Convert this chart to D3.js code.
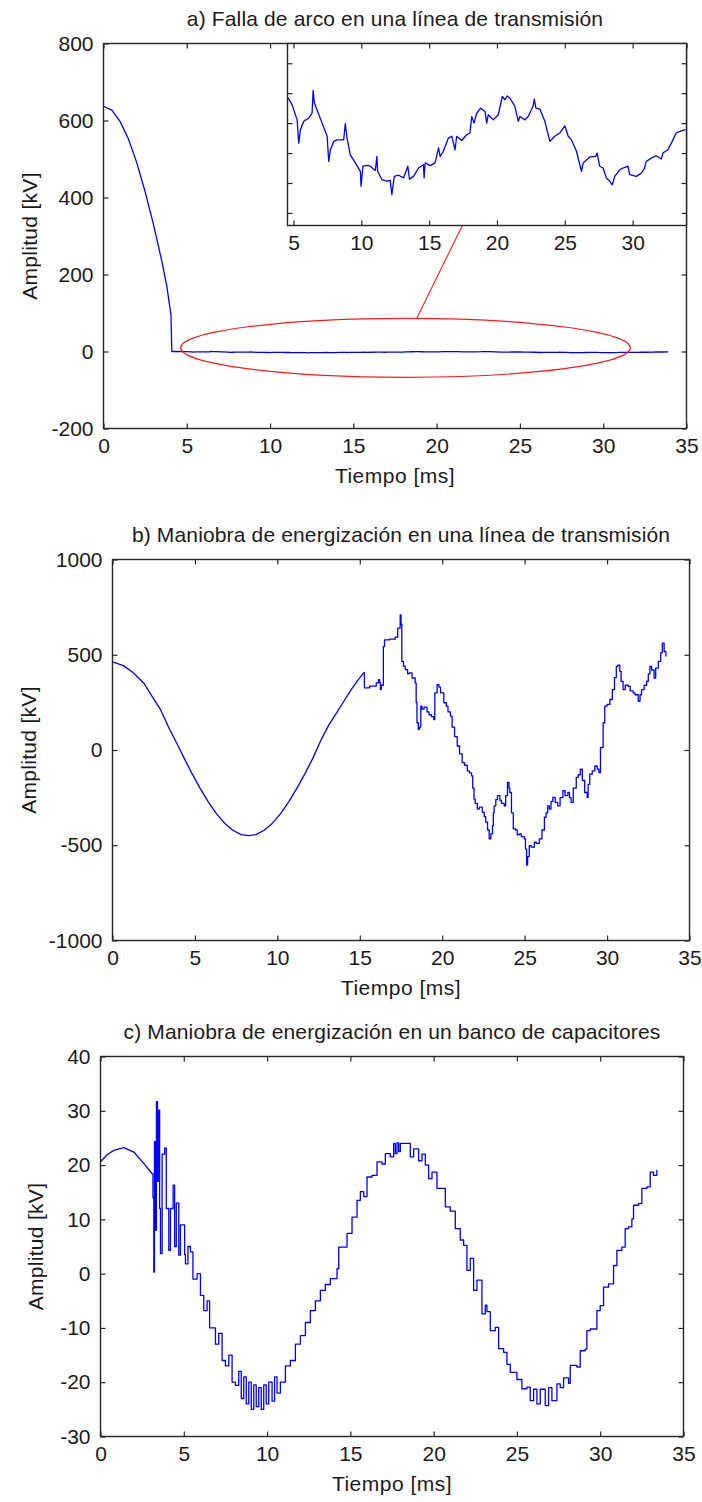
<!DOCTYPE html>
<html>
<head>
<meta charset="utf-8">
<script src="https://cdn.jsdelivr.net/npm/d3@7"></script>
<style>
  body { margin: 0; background: #fff; }
  text { font-family: "Liberation Sans", Arial, sans-serif; fill: #1a1a1a; }
</style>
</head>
<body>
<svg id="fig" width="702" height="1502"></svg>
<script>
// ---------------- data ----------------
// a) arc fault: voltage collapse before the arc, in kV
const faultTime = [0, 0.5, 1.0, 1.5, 2.0, 2.5, 3.0, 3.5, 3.8, 4.05];
const faultKV   = [637, 627, 597, 552, 490, 415, 330, 235, 170, 95];

// a) residual voltage after the fault (shown magnified in the inset), in kV
const residualTime = [4.1, 4.4, 4.66, 4.90, 5.27, 5.39, 5.51, 5.76, 6.13, 6.37, 6.45, 6.54, 6.74, 7.11, 7.48, 7.60, 7.72, 7.97, 8.21, 8.70, 8.82, 8.95, 9.19, 9.56, 9.93, 9.98, 10.12, 10.42, 10.66, 11.03, 11.15, 11.20, 11.52, 11.89, 12.13, 12.25, 12.43, 12.75, 13.11, 13.43, 13.55, 13.85, 14.22, 14.58, 14.63, 14.71, 15.07, 15.44, 15.69, 15.81, 16.05, 16.42, 16.67, 16.91, 17.03, 17.40, 17.77, 18.01, 18.14, 18.31, 18.50, 18.80, 19.12, 19.24, 19.36, 19.73, 20.10, 20.39, 20.59, 20.76, 20.96, 21.32, 21.57, 21.69, 22.06, 22.30, 22.67, 22.75, 22.87, 23.16, 23.53, 23.90, 24.26, 24.63, 25.00, 25.25, 25.49, 25.86, 26.23, 26.35, 26.84, 27.28, 27.38, 27.57, 27.82, 28.06, 28.31, 28.50, 28.68, 29.04, 29.29, 29.66, 29.78, 30.27, 30.64, 30.88, 31.00, 31.37, 31.74, 32.11, 32.23, 32.60, 32.97, 33.21, 33.58, 33.90];
const residualKV   = [0, -0.05, -0.19, -0.39, -0.89, -1.67, -1.22, -0.94, -0.83, -0.67, 0.09, -0.33, -0.56, -1.00, -1.44, -2.28, -1.89, -1.61, -1.56, -1.56, -1.02, -1.50, -2.06, -2.33, -2.61, -3.11, -2.44, -2.41, -2.44, -2.58, -2.11, -2.61, -2.89, -2.94, -2.91, -3.39, -2.78, -2.74, -2.83, -2.44, -2.87, -2.78, -2.50, -2.39, -2.83, -2.33, -2.42, -2.33, -1.83, -2.11, -1.94, -1.50, -1.44, -1.89, -1.44, -1.58, -1.39, -1.33, -0.78, -1.00, -0.67, -0.50, -0.61, -1.00, -0.72, -0.89, -0.72, -0.11, -0.22, -0.09, -0.17, -0.44, -0.94, -0.78, -0.89, -0.78, -0.42, -0.20, -0.50, -0.53, -0.94, -1.61, -1.44, -1.33, -1.09, -1.44, -1.56, -1.94, -2.61, -2.33, -2.13, -2.11, -2.00, -2.44, -2.50, -2.83, -2.94, -3.06, -2.78, -2.56, -2.50, -2.44, -2.72, -2.78, -2.67, -2.50, -2.28, -2.17, -2.09, -2.20, -2.00, -1.89, -1.56, -1.33, -1.26, -1.22];

// zoom annotation around the residual (ms, kV) and where it meets the inset
const zoomCenter = [18.13, 9.5];
const zoomRadius = [13.5, 76.5];
const zoomLink   = [18.8, 17.45];   // [time on ellipse, time on inset axis]

// b) line energization, in kV
const lineTime = [0, 0.67, 1.28, 1.89, 2.4, 2.91, 3.42, 3.93, 4.33, 4.8, 5.3, 5.8, 6.3, 6.8, 7.3, 7.8, 8.25, 8.7, 9.2, 9.7, 10.2, 10.7, 11.2, 11.7, 12.17, 12.67, 13.1, 13.59, 14.1, 14.5, 14.91, 15.26,
  15.28, 15.6, 16.0, 16.13, 16.2, 16.25, 16.3, 16.43, 16.5, 16.8, 17.15, 17.3, 17.45, 17.5, 17.55, 17.65, 17.76, 17.9, 18.0, 18.17, 18.36, 18.42, 18.47, 18.55, 18.61, 18.7, 18.77, 18.9, 19.08, 19.2, 19.35, 19.49, 19.55, 19.69, 19.8, 19.9, 20.1, 20.25, 20.35, 20.5, 20.6, 20.75, 20.91, 21.05, 21.21, 21.35, 21.52, 21.65, 21.78, 21.85, 21.93, 22.0, 22.13, 22.25, 22.43, 22.55, 22.64, 22.75, 22.85, 22.95, 23.05, 23.1, 23.15, 23.25, 23.35, 23.5, 23.6, 23.76, 23.85, 23.96, 24.05, 24.1, 24.2, 24.31, 24.45, 24.55, 24.67, 24.8, 24.98, 25.05, 25.12, 25.18, 25.28, 25.4, 25.59, 25.7, 25.89, 26.05, 26.2, 26.3, 26.4, 26.5, 26.6, 26.71, 26.85, 27.01, 27.15, 27.32, 27.45, 27.62, 27.72, 27.82, 27.95, 28.13, 28.25, 28.38, 28.5, 28.64, 28.79, 28.85, 28.95, 29.1, 29.26, 29.4, 29.51, 29.6, 29.76, 29.86, 30.0, 30.17, 30.32, 30.45, 30.56, 30.65, 30.77, 30.85, 30.97, 31.1, 31.28, 31.4, 31.58, 31.7, 31.89, 32.0, 32.09, 32.25, 32.4, 32.5, 32.6, 32.7, 32.85, 32.95, 33.11, 33.25, 33.35, 33.46, 33.57];
const lineKV = [463, 443, 404, 352, 282, 213, 117, 30, -40, -120, -199, -271, -334, -384, -421, -444, -450, -444, -421, -384, -334, -271, -199, -120, -40, 56, 128, 195, 265, 320, 369, 407,
  326, 335, 352, 369, 355, 317, 340, 543, 578, 582, 592, 640, 709, 660, 465, 440, 422, 400, 405, 378, 352, 250, 143, 108, 120, 230, 215, 225, 200, 185, 175, 160, 300, 343, 330, 300, 248, 230, 200, 178, 120, 70, 21, -20, -66, -80, -110, -120, -136, -200, -258, -280, -310, -300, -327, -350, -379, -420, -467, -440, -397, -330, -293, -260, -240, -265, -280, -293, -240, -170, -200, -223, -330, -414, -420, -445, -440, -455, -467, -520, -604, -560, -502, -510, -484, -490, -467, -420, -353, -330, -293, -310, -270, -249, -275, -293, -250, -214, -240, -223, -250, -275, -200, -144, -130, -101, -160, -223, -249, -180, -127, -110, -84, -100, -118, 13, 143, 230, 240, 265, 317, 380, 439, 445, 413, 360, 317, 340, 334, 310, 300, 290, 256, 290, 317, 340, 361, 400, 439, 420, 378, 430, 465, 510, 561, 517, 491];

// c) capacitor bank energization, in kV
const bankTime = [0, 0.4, 0.8, 1.4, 2.0, 2.6, 3.1, 3.15, 3.2, 3.24, 3.3, 3.36, 3.42, 3.5, 3.55, 3.6, 3.7, 3.85, 3.95, 4.1, 4.2, 4.36, 4.45, 4.55, 4.7, 4.8, 4.95, 5.05, 5.1, 5.25, 5.4, 5.55, 5.8, 6.0, 6.2, 6.4, 6.55, 6.9, 7.1, 7.3, 7.5, 7.7, 7.9, 8.1, 8.3, 8.45, 8.6, 8.75, 8.9, 9.05, 9.2, 9.35, 9.5, 9.65, 9.8, 9.95, 10.1, 10.3, 10.45, 10.6, 10.8, 11.1, 11.4, 11.7, 12.0, 12.3, 12.6, 12.9, 13.2, 13.5, 13.8, 14.2, 14.3, 14.8, 15.1, 15.4, 15.6, 15.8, 16.0, 16.3, 16.6, 16.9, 17.1, 17.4, 17.6, 17.7, 17.8, 17.9, 18.0, 18.4, 18.6, 18.8, 19.1, 19.3, 19.5, 19.7, 19.9, 20.2, 20.4, 20.7, 21.0, 21.3, 21.6, 21.8, 22.0, 22.2, 22.4, 22.6, 22.9, 23.1, 23.2, 23.4, 23.7, 23.9, 24.2, 24.4, 24.6, 25.0, 25.3, 25.6, 25.8, 26.0, 26.2, 26.4, 26.7, 26.9, 27.1, 27.4, 27.6, 27.8, 28.1, 28.2, 28.6, 28.8, 29.1, 29.2, 29.4, 29.8, 30.0, 30.2, 30.5, 30.8, 31.0, 31.3, 31.5, 31.7, 31.9, 32.0, 32.3, 32.5, 32.8, 33.0, 33.2, 33.4];
const bankKV = [20.6, 21.9, 22.7, 23.2, 22.4, 20.3, 18.4, 14, 0.3, 24.3, 8, 31.7, 17, 30.1, 12, 3.7, 22, 23.1, 12, 4.3, 12, 16.3, 5, 13, 3.4, 9, 9, 3.5, 1.8, 5, 4, -1, 0, -4, -6.8, -5, -10, -13, -11, -16, -17, -15, -20, -20.6, -18, -23, -19, -24, -20, -25, -20.5, -24.5, -21, -25, -20.5, -24, -20, -23.5, -19, -22, -20, -17, -16, -13, -11.4, -9, -6.8, -5, -3.1, -2, -0.9, 0.9, 4.9, 7.4, 10.4, 13.5, 15.1, 14.2, 17.8, 18.1, 20.6, 20.2, 22.1, 21.5, 24.0, 22.1, 24.1, 22.5, 24.0, 24.0, 21.5, 23, 20.8, 22, 20.0, 17.5, 18.7, 15.7, 15.7, 12.3, 11.5, 8.3, 6.2, 5.2, 0.6, 2.8, -3.1, -1.2, -7.4, -5.8, -7.0, -10.5, -9.9, -13.8, -14.5, -16.7, -18.2, -19.5, -21.2, -20.9, -23.4, -21.3, -24.0, -21.3, -24.3, -21.0, -23.4, -20.3, -21.0, -19.2, -20.2, -16.9, -17.2, -14.2, -13.9, -10.5, -10.2, -6.8, -5.9, -2.5, -1.9, 1.5, 4.3, 4.9, 8.3, 8.6, 10.1, 12.6, 12.9, 15.7, 16.0, 18.7, 18.1, 19.1];

// tick values
const timeTicks  = [0, 5, 10, 15, 20, 25, 30, 35];
const insetTicksX = [5, 10, 15, 20, 25, 30];
const insetTicksY = [-4, -3, -2, -1, 0, 1];
const arcTicksY  = [-200, 0, 200, 400, 600, 800];
const lineTicksY = [-1000, -500, 0, 500, 1000];
const bankTicksY = [-30, -20, -10, 0, 10, 20, 30, 40];

// titles
const titles = [
  "a) Falla de arco en una línea de transmisión",
  "b) Maniobra de energización en una línea de transmisión",
  "c) Maniobra de energización en un banco de capacitores"
];
const xLabel = "Tiempo [ms]";
const yLabel = "Amplitud [kV]";

// ---------------- drawing ----------------
const svg = d3.select("#fig");
const FONT = 21;
const LINE_BLUE = "#0000ff";
const AXIS = "#262626";
const TICK = 5;
const fmt = d => String(d);

const zip = (t, v) => t.map((d, i) => ({ t: d, v: v[i] }));

// box with ticks pointing inward on all four sides
function frame(g, x, y, xt, yt, box, withLabels) {
  const [l, r, t, b] = box;
  g.append("g").attr("transform", `translate(0,${b})`)
    .call(d3.axisBottom(x).tickValues(xt).tickSize(-TICK).tickSizeOuter(0)
      .tickPadding(10).tickFormat(withLabels.x ? fmt : ""));
  g.append("g").attr("transform", `translate(0,${t})`)
    .call(d3.axisTop(x).tickValues(xt).tickSize(-TICK).tickSizeOuter(0).tickFormat(""));
  g.append("g").attr("transform", `translate(${l},0)`)
    .call(d3.axisLeft(y).tickValues(yt).tickSize(-TICK).tickSizeOuter(0)
      .tickPadding(10).tickFormat(withLabels.y ? fmt : ""));
  g.append("g").attr("transform", `translate(${r},0)`)
    .call(d3.axisRight(y).tickValues(yt).tickSize(-TICK).tickSizeOuter(0).tickFormat(""));
  g.selectAll(".domain").remove();
  g.selectAll(".tick line").attr("stroke", AXIS).attr("stroke-width", 1.2);
  g.selectAll(".tick text").attr("font-size", FONT).attr("font-family", null).attr("fill", "#1a1a1a");
  g.append("rect").attr("x", l).attr("y", t).attr("width", r - l).attr("height", b - t)
    .attr("fill", "none").attr("stroke", AXIS).attr("stroke-width", 1.4);
}

// draws a trace: smooth part as straight segments, sampled/noisy part as a staircase
function trace(g, data, x, y, stepFrom, clip) {
  const smooth = data.filter(d => d.t <= stepFrom);
  const noisy = data.filter(d => d.t >= stepFrom);
  const style = p => p.attr("fill", "none").attr("stroke", LINE_BLUE).attr("stroke-width", 1.3)
    .attr("stroke-linejoin", "round").attr("clip-path", clip || null);
  if (smooth.length > 1)
    style(g.append("path").datum(smooth).attr("d", d3.line().x(d => x(d.t)).y(d => y(d.v))));
  if (noisy.length > 1)
    style(g.append("path").datum(noisy)
      .attr("d", d3.line().curve(d3.curveStepAfter).x(d => x(d.t)).y(d => y(d.v))));
}

function panel(cfg) {
  const [l, r, t, b] = cfg.box;
  const g = svg.append("g");
  const x = d3.scaleLinear().domain([0, 35]).range([l, r]);
  const y = d3.scaleLinear().domain(cfg.yDomain).range([b, t]);
  trace(g, cfg.data, x, y, cfg.stepFrom);
  frame(g, x, y, timeTicks, cfg.yTicks, cfg.box, { x: true, y: true });
  g.append("text").attr("x", (l + r) / 2).attr("y", t - 18).attr("text-anchor", "middle")
    .attr("font-size", FONT).attr("letter-spacing", 0.15).text(cfg.title);
  g.append("text").attr("x", (l + r) / 2).attr("y", b + 54).attr("text-anchor", "middle")
    .attr("font-size", FONT).attr("letter-spacing", 0.5).text(xLabel);
  g.append("text").attr("transform", `translate(${cfg.yLabelX},${(t + b) / 2}) rotate(-90)`)
    .attr("text-anchor", "middle").attr("font-size", FONT).attr("letter-spacing", 0.3).text(yLabel);
  return { g, x, y };
}

// a) arc fault
const residual = zip(residualTime, residualKV);
const A = panel({
  box: [103.5, 686.5, 43.5, 428.5],
  yDomain: [-200, 800],
  yTicks: arcTicksY,
  data: zip(faultTime, faultKV).concat(residual),
  stepFrom: 99,
  title: titles[0],
  yLabelX: 37
});

// ellipse marking the magnified region
const ex = A.x(zoomCenter[0]), ey = A.y(zoomCenter[1]);
const erx = A.x(zoomCenter[0] + zoomRadius[0]) - ex;
const ery = ey - A.y(zoomCenter[1] + zoomRadius[1]);
A.g.append("ellipse").attr("cx", ex).attr("cy", ey).attr("rx", erx).attr("ry", ery)
  .attr("fill", "none").attr("stroke", "#ff1a1a").attr("stroke-width", 1.2);

// inset axes
const inBox = [287.5, 686.5, 43.5, 225.5];
const ix = d3.scaleLinear().domain([4.56, 33.97]).range([inBox[0], inBox[1]]);
const iy = d3.scaleLinear().domain([-4.42, 1.66]).range([inBox[3], inBox[2]]);

// connector from the ellipse to the inset
const lt = zoomLink[0];
const u = (lt - zoomCenter[0]) / zoomRadius[0];
const linkV = zoomCenter[1] + zoomRadius[1] * Math.sqrt(1 - u * u);
A.g.append("line")
  .attr("x1", A.x(lt)).attr("y1", A.y(linkV))
  .attr("x2", ix(zoomLink[1])).attr("y2", inBox[3])
  .attr("stroke", "#ff1a1a").attr("stroke-width", 1.1);

const inset = svg.append("g");
inset.append("rect").attr("x", inBox[0]).attr("y", inBox[2])
  .attr("width", inBox[1] - inBox[0]).attr("height", inBox[3] - inBox[2]).attr("fill", "#fff");
inset.append("clipPath").attr("id", "insetClip").append("rect")
  .attr("x", inBox[0]).attr("y", inBox[2])
  .attr("width", inBox[1] - inBox[0]).attr("height", inBox[3] - inBox[2]);
trace(inset, residual, ix, iy, 99, "url(#insetClip)");
frame(inset, ix, iy, insetTicksX, insetTicksY, inBox, { x: true, y: false });

// b) line energization
panel({
  box: [112.5, 689.5, 559.5, 940.5],
  yDomain: [-1000, 1000],
  yTicks: lineTicksY,
  data: zip(lineTime, lineKV),
  stepFrom: 15.26,
  title: titles[1],
  yLabelX: 36
});

// c) capacitor bank energization
panel({
  box: [100.5, 683.5, 1056.5, 1436.5],
  yDomain: [-30, 40],
  yTicks: bankTicksY,
  data: zip(bankTime, bankKV),
  stepFrom: 3.1,
  title: titles[2],
  yLabelX: 43
});
</script>
</body>
</html>
